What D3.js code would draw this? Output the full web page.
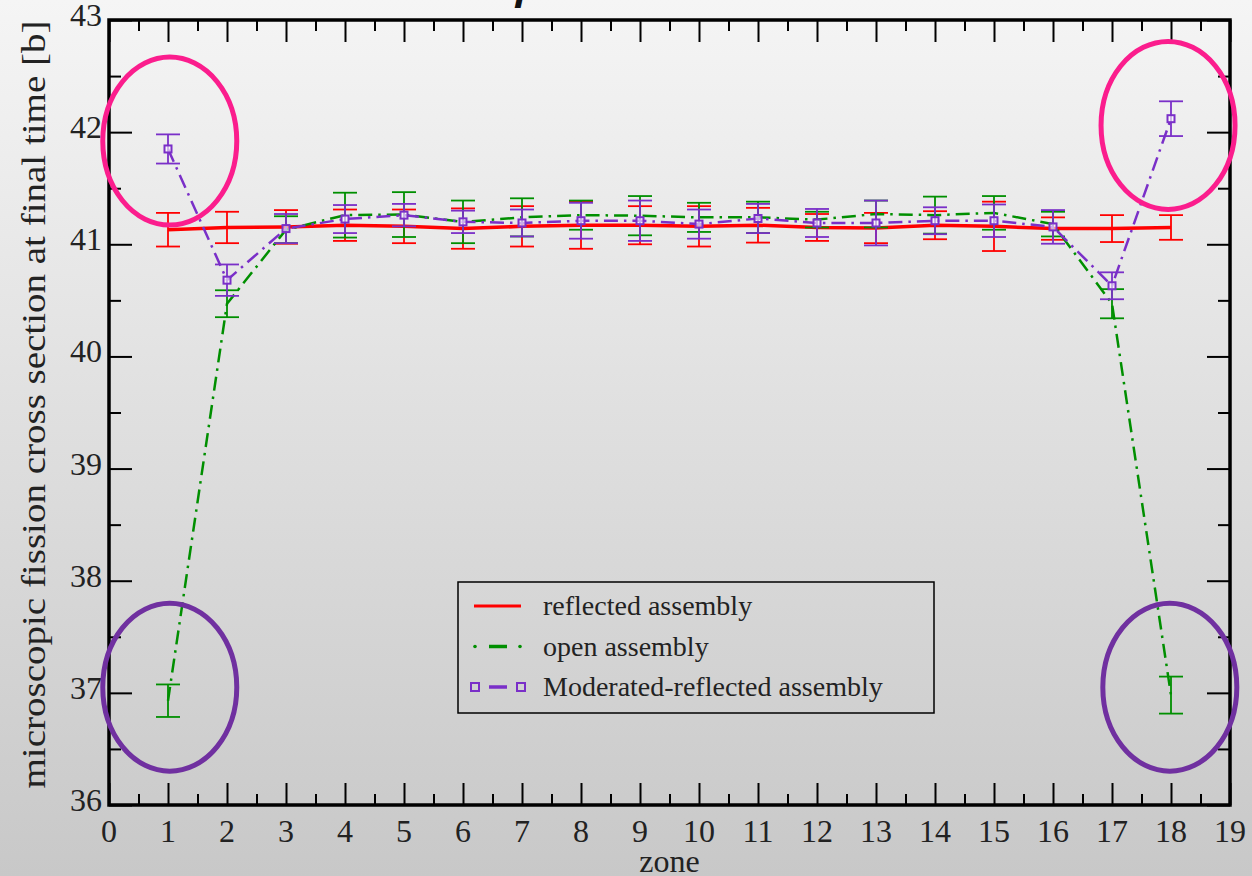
<!DOCTYPE html>
<html>
<head>
<meta charset="utf-8">
<script src="https://cdn.jsdelivr.net/npm/d3@7"></script>
<style>
  html, body { margin: 0; padding: 0; overflow: hidden; }
  body { width: 1252px; height: 876px; }
  .serif { font-family: "Liberation Serif", "DejaVu Serif", "Tinos", "Nimbus Roman", "Nimbus Roman No9 L", "FreeSerif", "Noto Serif", "Times New Roman", Times, serif; }
</style>
</head>
<body>
<div id="chart"></div>
<script>
const ZONES = [1, 2, 3, 4, 5, 6, 7, 8, 9, 10, 11, 12, 13, 14, 15, 16, 17, 18]

const REFLECTED = [41.13, 41.15, 41.155, 41.17, 41.16, 41.14, 41.16, 41.17, 41.17, 41.16, 41.17, 41.15, 41.145, 41.17, 41.16, 41.14, 41.14, 41.15]
const REFLECTED_ERR = [0.15, 0.14, 0.15, 0.14, 0.15, 0.18, 0.18, 0.21, 0.17, 0.18, 0.155, 0.12, 0.135, 0.125, 0.22, 0.1, 0.12, 0.11]

const OPEN = [36.93, 40.47, 41.13, 41.26, 41.265, 41.2, 41.24, 41.26, 41.255, 41.24, 41.24, 41.22, 41.27, 41.26, 41.28, 41.18, 40.47, 36.98]
const OPEN_ERR = [0.145, 0.12, 0.12, 0.2, 0.2, 0.19, 0.17, 0.13, 0.175, 0.13, 0.14, 0.07, 0.12, 0.165, 0.15, 0.11, 0.13, 0.165]

const MODERATED = [41.85, 40.68, 41.14, 41.225, 41.26, 41.2, 41.19, 41.21, 41.21, 41.18, 41.23, 41.19, 41.19, 41.21, 41.21, 41.155, 40.63, 42.12]
const MODERATED_ERR = [0.13, 0.14, 0.13, 0.125, 0.1, 0.1, 0.12, 0.16, 0.18, 0.13, 0.13, 0.125, 0.2, 0.12, 0.145, 0.15, 0.12, 0.155]

const X_TICKS = d3.range(0, 20)
const Y_TICKS = [36, 37, 38, 39, 40, 41, 42, 43]

const SERIES = [
  { name: "reflected assembly", values: REFLECTED, err: REFLECTED_ERR, color: "#ff0000", width: 3.5, dash: null, marker: false },
  { name: "open assembly", values: OPEN, err: OPEN_ERR, color: "#008f00", width: 2.5, dash: "14,6,2.5,6", marker: false },
  { name: "Moderated-reflected assembly", values: MODERATED, err: MODERATED_ERR, color: "#7a2fc8", width: 2.5, dash: "14,6,2.5,6", marker: true },
]

// highlight rings drawn on the slide: [zone, value, colour]
const RINGS = [
  [1.03, 41.92, "#fb1d8d"],
  [17.95, 42.06, "#fb1d8d"],
  [1.03, 37.05, "#7030a0"],
  [17.98, 37.05, "#7030a0"],
]

const W = 1252, H = 876
const M = { left: 109, right: 22, top: 20, bottom: 71 }

const svg = d3.select("#chart").append("svg")
  .attr("width", W).attr("height", H)

const grad = svg.append("defs").append("linearGradient")
  .attr("id", "bg").attr("x1", 0).attr("y1", 0).attr("x2", 0).attr("y2", 1)
grad.append("stop").attr("offset", "0%").attr("stop-color", "#f5f5f5")
grad.append("stop").attr("offset", "100%").attr("stop-color", "#c8c8c8")
svg.append("rect").attr("width", W).attr("height", H).attr("fill", "url(#bg)")

// slide title, mostly cut off at the top edge
svg.append("text")
  .attr("x", 432).attr("y", -1)
  .attr("font-family", "'Open Sans', sans-serif")
  .attr("font-style", "italic").attr("font-weight", "700")
  .attr("font-size", 40).attr("fill", "#111")
  .text("Comparison")

const x = d3.scaleLinear().domain([0, 19]).range([M.left, W - M.right])
const y = d3.scaleLinear().domain([36, 43]).range([H - M.bottom, M.top])

const g = svg.append("g")

// ticks on all four sides, pointing inwards
function ticks(gen, t, tv, len) {
  g.append("g")
    .attr("transform", t)
    .call(gen.tickValues(tv).tickSize(-len).tickFormat(""))
    .call(s => s.select(".domain").remove())
    .call(s => s.selectAll("line").attr("stroke", "#000").attr("stroke-width", 2))
}
const xMinor = d3.range(0.5, 19, 1)
const yMinor = d3.range(36.5, 43, 1)
const bottomY = y(36), topY = y(43), leftX = x(0), rightX = x(19)
ticks(d3.axisBottom(x), `translate(0,${bottomY})`, X_TICKS, 22)
ticks(d3.axisBottom(x), `translate(0,${bottomY})`, xMinor, 11)
ticks(d3.axisTop(x), `translate(0,${topY})`, X_TICKS, 22)
ticks(d3.axisTop(x), `translate(0,${topY})`, xMinor, 11)
ticks(d3.axisLeft(y), `translate(${leftX},0)`, Y_TICKS, 23)
ticks(d3.axisLeft(y), `translate(${leftX},0)`, yMinor, 12)
ticks(d3.axisRight(y), `translate(${rightX},0)`, Y_TICKS, 23)
ticks(d3.axisRight(y), `translate(${rightX},0)`, yMinor, 12)

g.append("rect")
  .attr("x", leftX).attr("y", topY)
  .attr("width", rightX - leftX).attr("height", bottomY - topY)
  .attr("fill", "none").attr("stroke", "#000").attr("stroke-width", 3.5)

// tick labels
g.selectAll(".xl").data(X_TICKS).join("text")
  .attr("class", "serif")
  .attr("x", d => x(d)).attr("y", bottomY + 37)
  .attr("text-anchor", "middle")
  .attr("font-size", 32).attr("fill", "#222")
  .text(d => d)

g.selectAll(".yl").data(Y_TICKS).join("text")
  .attr("class", "serif")
  .attr("x", leftX - 7).attr("y", d => y(d) + 6)
  .attr("text-anchor", "end")
  .attr("font-size", 32).attr("fill", "#222")
  .text(d => d)

svg.append("text")
  .attr("class", "serif")
  .attr("x", (leftX + rightX) / 2).attr("y", 872)
  .attr("text-anchor", "middle")
  .attr("font-size", 32).attr("fill", "#222")
  .text("zone")

svg.append("text")
  .attr("class", "serif")
  .attr("transform", `translate(45,${(topY + bottomY) / 2 - 8}) rotate(-90)`)
  .attr("text-anchor", "middle")
  .attr("textLength", 768).attr("lengthAdjust", "spacingAndGlyphs")
  .attr("font-size", 33).attr("fill", "#222")
  .text("microscopic fission cross section at final time [b]")

// series
const line = d3.line().x(d => x(d.z)).y(d => y(d.v))
const CAP = 12

SERIES.forEach(s => {
  const pts = ZONES.map((z, i) => ({ z, v: s.values[i], e: s.err[i] }))
  const sg = g.append("g")

  sg.append("path")
    .datum(pts)
    .attr("d", line)
    .attr("fill", "none")
    .attr("stroke", s.color)
    .attr("stroke-width", s.width)
    .attr("stroke-dasharray", s.dash)

  const bars = sg.selectAll(".err").data(pts).join("g")
    .attr("stroke", s.color).attr("stroke-width", 1.8)
  bars.append("line")
    .attr("x1", d => x(d.z)).attr("x2", d => x(d.z))
    .attr("y1", d => y(d.v - d.e)).attr("y2", d => y(d.v + d.e))
  bars.append("line")
    .attr("x1", d => x(d.z) - CAP).attr("x2", d => x(d.z) + CAP)
    .attr("y1", d => y(d.v + d.e)).attr("y2", d => y(d.v + d.e))
  bars.append("line")
    .attr("x1", d => x(d.z) - CAP).attr("x2", d => x(d.z) + CAP)
    .attr("y1", d => y(d.v - d.e)).attr("y2", d => y(d.v - d.e))

  if (s.marker) {
    sg.selectAll(".mk").data(pts).join("rect")
      .attr("x", d => x(d.z) - 3.5).attr("y", d => y(d.v) - 3.5)
      .attr("width", 7).attr("height", 7)
      .attr("fill", "#fff").attr("fill-opacity", 0.6)
      .attr("stroke", s.color).attr("stroke-width", 2)
  }
})

// legend
const lg = svg.append("g")
lg.append("rect")
  .attr("x", 458).attr("y", 582).attr("width", 476).attr("height", 131)
  .attr("fill", "none").attr("stroke", "#000").attr("stroke-width", 1.5)

SERIES.forEach((s, i) => {
  const ly = 606 + i * 40.5
  if (s.dash) {
    lg.append("circle").attr("cx", 475).attr("cy", ly).attr("r", s.marker ? 0 : 1.8).attr("fill", s.color)
    lg.append("circle").attr("cx", 520).attr("cy", ly).attr("r", s.marker ? 0 : 1.8).attr("fill", s.color)
    lg.append("line")
      .attr("x1", 489).attr("x2", 507).attr("y1", ly).attr("y2", ly)
      .attr("stroke", s.color).attr("stroke-width", 3.5)
  } else {
    lg.append("line")
      .attr("x1", 474).attr("x2", 521).attr("y1", ly).attr("y2", ly)
      .attr("stroke", s.color).attr("stroke-width", 3)
  }
  if (s.marker) {
    [475, 521].forEach(cx => {
      lg.append("rect")
        .attr("x", cx - 4).attr("y", ly - 4).attr("width", 8).attr("height", 8)
        .attr("fill", "none").attr("stroke", s.color).attr("stroke-width", 2)
    })
  }
  lg.append("text")
    .attr("class", "serif")
    .attr("x", 543).attr("y", ly + 9)
    .attr("font-size", 28).attr("fill", "#222")
    .text(s.name)
})

// rings
svg.selectAll(".ring").data(RINGS).join("ellipse")
  .attr("cx", d => x(d[0])).attr("cy", d => y(d[1]))
  .attr("rx", 67).attr("ry", 84)
  .attr("fill", "none")
  .attr("stroke", d => d[2])
  .attr("stroke-width", 5)
</script>
</body>
</html>
